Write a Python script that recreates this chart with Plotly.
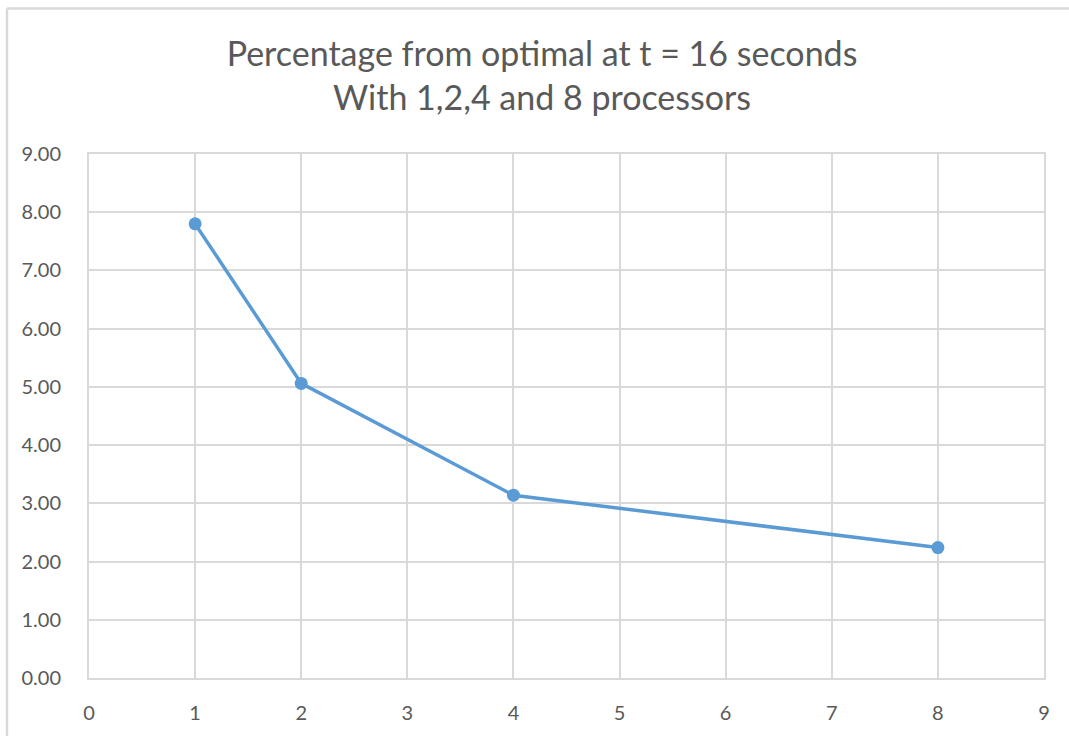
import plotly.graph_objects as go

# Processor counts and percentage distance from optimal
processors = [1, 2, 4, 8]
pct_from_optimal = [7.80, 5.06, 3.14, 2.24]

x_ticks = list(range(0, 10))
y_ticks = [i * 1.0 for i in range(0, 10)]
y_tick_labels = [f"{v:.2f}" for v in y_ticks]

title_lines = ["Percentage from optimal at t = 16 seconds", "With 1,2,4 and 8 processors"]

FONT = "Lato"
GRAY = "#595959"
GRID = "#d9d9d9"
BLUE = "#5b9bd5"

fig = go.Figure()
fig.add_trace(go.Scatter(
    x=processors,
    y=pct_from_optimal,
    mode="lines+markers",
    line=dict(color=BLUE, width=3.5),
    marker=dict(color=BLUE, size=13),
    showlegend=False,
))

W, H = 1069, 736
L, R, T, B = 89, 25, 154, 56

fig.update_layout(
    width=W, height=H,
    margin=dict(l=L, r=R, t=T, b=B),
    paper_bgcolor="white",
    plot_bgcolor="white",
    title=dict(
        text="<br>".join(title_lines),
        x=542 / W, xref="container", xanchor="center",
        y=1 - 66 / H, yref="container", yanchor="middle",
        font=dict(family=FONT, size=34, color=GRAY),
    ),
    xaxis=dict(
        range=[0, 9],
        tickvals=x_ticks,
        ticktext=[str(v) for v in x_ticks],
        showgrid=True, gridcolor=GRID, gridwidth=2,
        zeroline=False,
        showline=True, linecolor=GRID, linewidth=2, mirror=True,
        ticks="", ticklen=0,
        tickfont=dict(family=FONT, size=20, color=GRAY),
        ticklabelstandoff=16,
    ),
    yaxis=dict(
        range=[0, 9],
        tickvals=y_ticks,
        ticktext=y_tick_labels,
        showgrid=True, gridcolor=GRID, gridwidth=2,
        zeroline=False,
        showline=True, linecolor=GRID, linewidth=2, mirror=True,
        ticks="", ticklen=0,
        tickfont=dict(family=FONT, size=20, color=GRAY),
        ticklabelstandoff=22,
    ),
)

# Chart frame: top and left edges of the outer border
plot_w = W - L - R
plot_h = H - T - B
x0 = (7 - L) / plot_w
y_top = 1 + (T - 8) / plot_h
fig.add_shape(type="line", xref="paper", yref="paper",
              x0=x0, x1=(W + 10 - L) / plot_w, y0=y_top, y1=y_top,
              line=dict(color="#d9d9d9", width=2.5))
fig.add_shape(type="line", xref="paper", yref="paper",
              x0=x0, x1=x0, y0=y_top, y1=-(B + 10) / plot_h,
              line=dict(color="#d9d9d9", width=2.5))

fig.write_html("out.html")
